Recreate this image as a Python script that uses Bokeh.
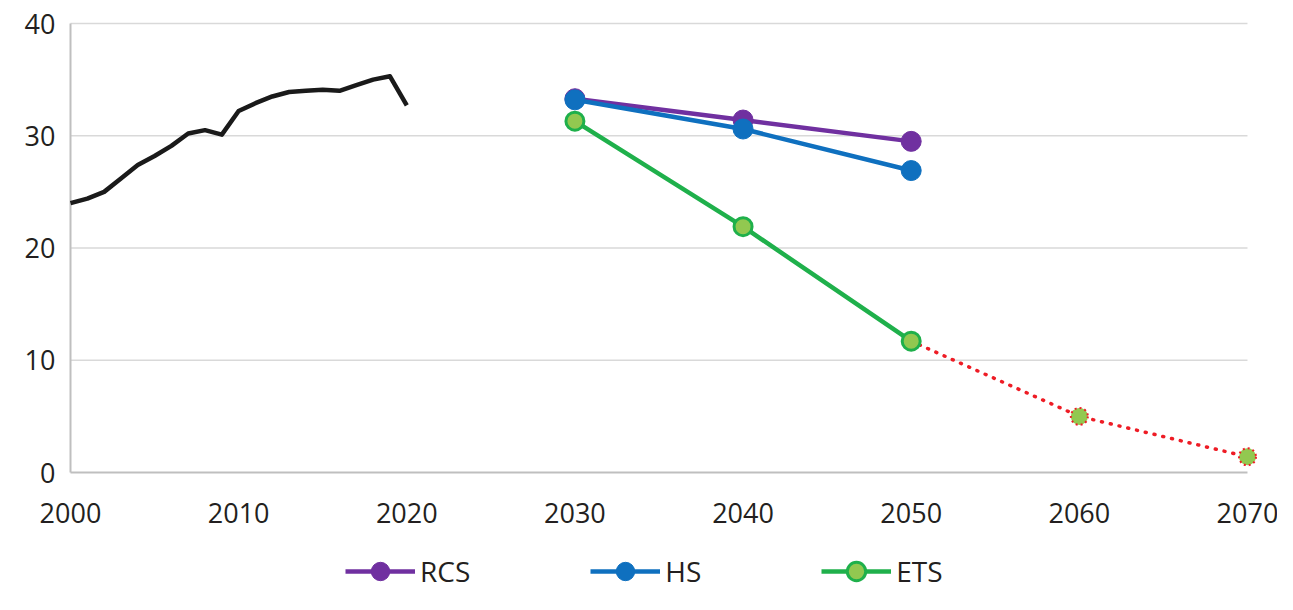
from bokeh.plotting import figure
from bokeh.models import Range1d, Legend, LegendItem
from bokeh.core.properties import value
from bokeh.embed import file_html
from bokeh.resources import INLINE

# ---- data ----
hist_years = list(range(2000, 2021))
hist_vals = [24.0, 24.4, 25.0, 26.2, 27.4, 28.2, 29.1, 30.2, 30.5, 30.1, 32.2,
             32.9, 33.5, 33.9, 34.0, 34.1, 34.0, 34.5, 35.0, 35.3, 32.7]

scen_years = [2030, 2040, 2050]
rcs_vals = [33.3, 31.4, 29.5]
hs_vals = [33.2, 30.6, 26.9]
ets_vals = [31.3, 21.9, 11.7]

ext_years = [2050, 2060, 2070]
ext_vals = [11.7, 5.0, 1.4]

x_ticks = [2000, 2010, 2020, 2030, 2040, 2050, 2060, 2070]
x_labels = [str(t) for t in x_ticks]
y_ticks = [0, 10, 20, 30, 40]
y_labels = [str(t) for t in y_ticks]
grid_y = [10, 20, 30, 40]

FONT = "Open Sans"
TXT = "#231f20"

# ---- layout: the frame covers the whole canvas; axes drawn from the tick arrays
W, H = 1277, 594
LEFT_PX, TOP_PX = 70, 23          # where (2000, 40) sits on the canvas
PX_X, PX_Y = 16.814, 11.225       # pixels per year / per unit
x0 = x_ticks[0] - LEFT_PX / PX_X
x1 = x0 + W / PX_X
y1 = y_ticks[-1] + TOP_PX / PX_Y
y0 = y1 - H / PX_Y

p = figure(width=W, height=H, output_backend="svg", toolbar_location=None,
           x_range=Range1d(x0, x1), y_range=Range1d(y0, y1),
           x_axis_location=None, y_axis_location=None,
           min_border=0)
p.outline_line_color = None
p.grid.visible = False

# gridlines
p.segment(x0=[x_ticks[0]] * len(grid_y), x1=[x_ticks[-1]] * len(grid_y),
          y0=grid_y, y1=grid_y, line_color="#d9d9d9", line_width=1.5)
# axis lines
p.segment(x0=[x_ticks[0]], x1=[x_ticks[-1]], y0=[y_ticks[0]], y1=[y_ticks[0]],
          line_color="#bfbfbf", line_width=2)
p.segment(x0=[x_ticks[0]], x1=[x_ticks[0]], y0=[y_ticks[0]], y1=[y_ticks[-1]],
          line_color="#bfbfbf", line_width=2)

# tick labels
p.text(x=x_ticks, y=[y_ticks[0]] * len(x_ticks), text=x_labels,
       text_font=value(FONT), text_font_size="27px", text_color=TXT,
       text_align="center", text_baseline="middle", y_offset=40)
p.text(x=[x_ticks[0]] * len(y_ticks), y=y_ticks, text=y_labels,
       text_font=value(FONT), text_font_size="27px", text_color=TXT,
       text_align="right", text_baseline="middle", x_offset=-15)

# historical
p.line(hist_years, hist_vals, line_color="#1a1a1a", line_width=4.5, line_join="round")

# scenarios
rcs_l = p.line(scen_years, rcs_vals, line_color="#7030a0", line_width=4.5)
rcs_m = p.scatter(scen_years, rcs_vals, size=20, fill_color="#7030a0", line_color="#7030a0")
hs_l = p.line(scen_years, hs_vals, line_color="#0f70bf", line_width=4.5)
hs_m = p.scatter(scen_years, hs_vals, size=20, fill_color="#0f70bf", line_color="#0f70bf")

p.line(ext_years, ext_vals, line_color="#ee1c25", line_width=3.5,
       line_dash="1 8", line_cap="round")
ets_l = p.line(scen_years, ets_vals, line_color="#1fb04b", line_width=4.5)
ets_m = p.scatter(scen_years, ets_vals, size=18, fill_color="#92c850",
                  line_color="#1fb04b", line_width=3)
p.scatter(ext_years[1:], ext_vals[1:], size=17, fill_color="#92c850",
          line_color="#ee1c25", line_width=2, line_dash="2 3")

legend = Legend(items=[
    LegendItem(label="RCS", renderers=[rcs_l, rcs_m]),
    LegendItem(label="HS", renderers=[hs_l, hs_m]),
    LegendItem(label="ETS", renderers=[ets_l, ets_m]),
], orientation="horizontal", location=(345, 0),
    glyph_width=70, glyph_height=46, label_standoff=5, spacing=120,
    label_text_font=FONT, label_text_font_size="28px", label_text_color=TXT,
    border_line_color=None, background_fill_alpha=0, padding=0, margin=0)
p.add_layout(legend)

open("out.html", "w").write(file_html(p, INLINE))
